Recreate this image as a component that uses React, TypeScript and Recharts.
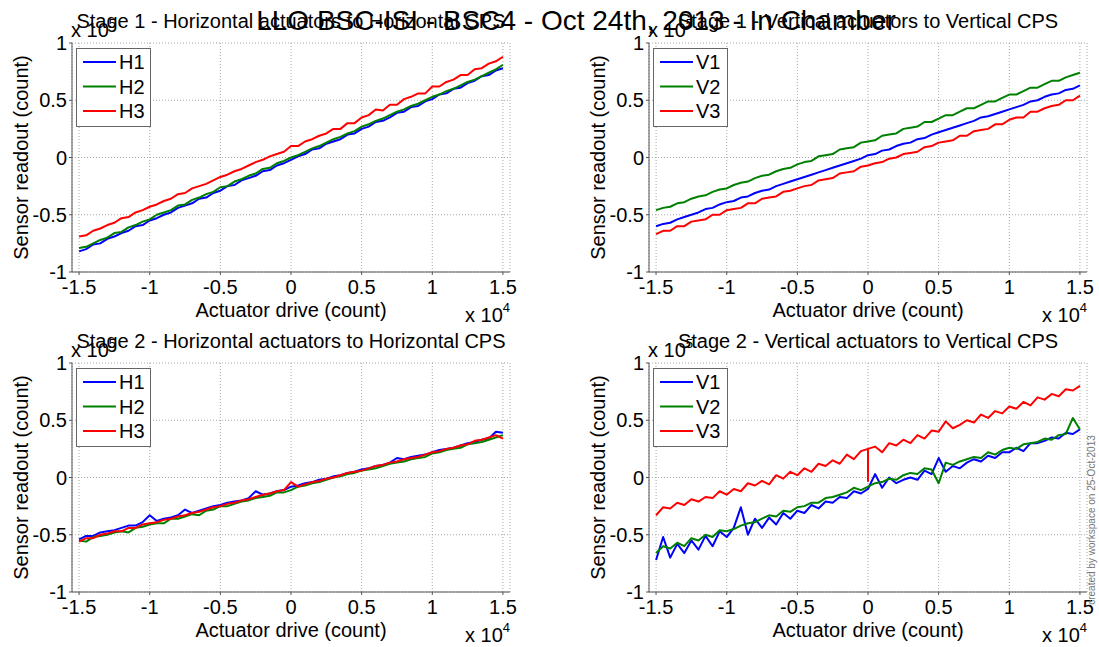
import React from 'react';
import { LineChart, Line, XAxis, YAxis, CartesianGrid } from 'recharts';

const FONT = '"Liberation Sans", Arial, Helvetica, sans-serif';

const MAIN_TITLE = 'LLO BSC-ISI - BSC4 - Oct 24th, 2013 - In Chamber';
const WATERMARK = 'created by workspace on 25-Oct-2013';
const X_LABEL = 'Actuator drive (count)';
const Y_LABEL = 'Sensor readout (count)';
const X_EXP = '4';
const Y_EXP = '5';

const X_TICKS = [-1.5, -1, -0.5, 0, 0.5, 1, 1.5];
const Y_TICKS = [-1, -0.5, 0, 0.5, 1];
const X_DOMAIN: [number, number] = [-1.55, 1.55];
const Y_DOMAIN: [number, number] = [-1, 1];

const COLORS = ['#0000ff', '#008000', '#ff0000'];

// actuator drive (x 10^4)
const XS = [-1.5, -1.45, -1.4, -1.35, -1.3, -1.25, -1.2, -1.15, -1.1, -1.05, -1, -0.95, -0.9, -0.85, -0.8, -0.75, -0.7, -0.65, -0.6, -0.55, -0.5, -0.45, -0.4, -0.35, -0.3, -0.25, -0.2, -0.15, -0.1, -0.05, 0, 0.05, 0.1, 0.15, 0.2, 0.25, 0.3, 0.35, 0.4, 0.45, 0.5, 0.55, 0.6, 0.65, 0.7, 0.75, 0.8, 0.85, 0.9, 0.95, 1, 1.05, 1.1, 1.15, 1.2, 1.25, 1.3, 1.35, 1.4, 1.45, 1.5];

// Stage 1 - Horizontal (x 10^5)
const S1_H1 = [-0.82, -0.80, -0.76, -0.75, -0.71, -0.69, -0.66, -0.64, -0.60, -0.59, -0.55, -0.53, -0.50, -0.48, -0.44, -0.42, -0.40, -0.36, -0.35, -0.31, -0.29, -0.25, -0.24, -0.20, -0.18, -0.16, -0.12, -0.11, -0.07, -0.05, -0.02, 0.01, 0.03, 0.07, 0.08, 0.12, 0.14, 0.16, 0.20, 0.21, 0.25, 0.27, 0.31, 0.32, 0.35, 0.39, 0.40, 0.44, 0.45, 0.49, 0.51, 0.55, 0.56, 0.60, 0.61, 0.65, 0.67, 0.71, 0.72, 0.76, 0.78];
const S1_H2 = [-0.79, -0.78, -0.75, -0.72, -0.70, -0.66, -0.65, -0.61, -0.59, -0.56, -0.54, -0.50, -0.48, -0.46, -0.42, -0.41, -0.37, -0.35, -0.32, -0.30, -0.26, -0.25, -0.21, -0.19, -0.16, -0.14, -0.10, -0.09, -0.05, -0.03, 0.00, 0.02, 0.05, 0.08, 0.10, 0.13, 0.16, 0.18, 0.21, 0.23, 0.27, 0.29, 0.32, 0.34, 0.37, 0.40, 0.42, 0.45, 0.47, 0.50, 0.53, 0.55, 0.58, 0.60, 0.63, 0.66, 0.68, 0.71, 0.74, 0.77, 0.81];
const S1_H3 = [-0.69, -0.68, -0.64, -0.62, -0.59, -0.57, -0.53, -0.52, -0.48, -0.46, -0.43, -0.41, -0.38, -0.36, -0.32, -0.31, -0.27, -0.25, -0.23, -0.20, -0.17, -0.15, -0.12, -0.10, -0.07, -0.04, -0.02, 0.01, 0.03, 0.05, 0.10, 0.10, 0.14, 0.16, 0.19, 0.21, 0.25, 0.25, 0.30, 0.30, 0.35, 0.37, 0.42, 0.41, 0.46, 0.46, 0.51, 0.53, 0.56, 0.56, 0.62, 0.62, 0.66, 0.68, 0.72, 0.72, 0.77, 0.78, 0.82, 0.84, 0.88];

// Stage 1 - Vertical
const S1_V1 = [-0.60, -0.58, -0.57, -0.54, -0.52, -0.50, -0.48, -0.45, -0.44, -0.41, -0.39, -0.38, -0.35, -0.34, -0.31, -0.29, -0.28, -0.25, -0.23, -0.21, -0.19, -0.17, -0.15, -0.13, -0.11, -0.09, -0.07, -0.05, -0.03, -0.01, 0.02, 0.03, 0.06, 0.07, 0.10, 0.12, 0.13, 0.16, 0.17, 0.20, 0.22, 0.24, 0.26, 0.28, 0.30, 0.32, 0.35, 0.36, 0.38, 0.40, 0.42, 0.44, 0.46, 0.49, 0.50, 0.53, 0.55, 0.56, 0.59, 0.60, 0.63];
const S1_V2 = [-0.46, -0.44, -0.43, -0.40, -0.39, -0.36, -0.34, -0.33, -0.30, -0.28, -0.27, -0.24, -0.22, -0.21, -0.18, -0.16, -0.15, -0.12, -0.10, -0.09, -0.06, -0.04, -0.03, 0.01, 0.02, 0.03, 0.07, 0.08, 0.09, 0.13, 0.14, 0.15, 0.19, 0.20, 0.21, 0.25, 0.26, 0.27, 0.31, 0.31, 0.34, 0.37, 0.37, 0.40, 0.43, 0.43, 0.46, 0.49, 0.49, 0.52, 0.55, 0.55, 0.58, 0.61, 0.61, 0.64, 0.67, 0.67, 0.70, 0.72, 0.74];
const S1_V3 = [-0.67, -0.64, -0.64, -0.60, -0.60, -0.56, -0.55, -0.54, -0.50, -0.50, -0.46, -0.45, -0.44, -0.40, -0.40, -0.36, -0.35, -0.34, -0.30, -0.29, -0.27, -0.25, -0.24, -0.20, -0.19, -0.18, -0.14, -0.13, -0.12, -0.08, -0.07, -0.05, -0.04, -0.01, 0.00, 0.03, 0.04, 0.05, 0.09, 0.10, 0.13, 0.14, 0.15, 0.19, 0.19, 0.23, 0.24, 0.25, 0.29, 0.29, 0.33, 0.35, 0.35, 0.40, 0.40, 0.43, 0.45, 0.46, 0.50, 0.50, 0.54];

// Stage 2 - Horizontal
const S2_H1 = [-0.54, -0.51, -0.51, -0.48, -0.47, -0.46, -0.44, -0.42, -0.42, -0.39, -0.33, -0.38, -0.36, -0.35, -0.33, -0.28, -0.31, -0.29, -0.27, -0.25, -0.24, -0.22, -0.21, -0.20, -0.18, -0.12, -0.15, -0.14, -0.12, -0.11, -0.08, -0.07, -0.05, -0.04, -0.02, -0.01, 0.01, 0.02, 0.04, 0.05, 0.07, 0.08, 0.10, 0.11, 0.13, 0.17, 0.16, 0.18, 0.19, 0.20, 0.22, 0.24, 0.25, 0.26, 0.28, 0.30, 0.31, 0.33, 0.34, 0.40, 0.39];
const S2_H2 = [-0.55, -0.56, -0.52, -0.51, -0.50, -0.48, -0.47, -0.48, -0.44, -0.43, -0.41, -0.40, -0.40, -0.36, -0.36, -0.34, -0.32, -0.33, -0.29, -0.28, -0.25, -0.25, -0.23, -0.21, -0.20, -0.18, -0.17, -0.16, -0.13, -0.13, -0.11, -0.08, -0.07, -0.05, -0.04, -0.02, 0.00, 0.01, 0.03, 0.04, 0.06, 0.07, 0.08, 0.10, 0.12, 0.13, 0.14, 0.16, 0.17, 0.18, 0.21, 0.22, 0.24, 0.25, 0.26, 0.29, 0.30, 0.31, 0.33, 0.35, 0.37];
const S2_H3 = [-0.56, -0.53, -0.53, -0.50, -0.49, -0.47, -0.47, -0.44, -0.44, -0.41, -0.40, -0.39, -0.37, -0.36, -0.34, -0.33, -0.31, -0.30, -0.28, -0.26, -0.25, -0.23, -0.22, -0.20, -0.19, -0.17, -0.15, -0.14, -0.12, -0.11, -0.04, -0.08, -0.06, -0.04, -0.03, -0.01, 0.00, 0.02, 0.04, 0.05, 0.06, 0.08, 0.10, 0.11, 0.13, 0.14, 0.16, 0.17, 0.18, 0.20, 0.22, 0.23, 0.25, 0.26, 0.28, 0.29, 0.32, 0.33, 0.35, 0.37, 0.34];

// Stage 2 - Vertical
const S2_V1 = [-0.72, -0.52, -0.70, -0.58, -0.66, -0.55, -0.63, -0.51, -0.60, -0.47, -0.52, -0.44, -0.26, -0.50, -0.36, -0.44, -0.35, -0.41, -0.31, -0.36, -0.29, -0.31, -0.24, -0.27, -0.21, -0.22, -0.17, -0.18, -0.12, -0.14, -0.10, 0.03, -0.09, 0.00, -0.05, -0.02, 0.00, -0.02, 0.06, 0.03, 0.17, 0.05, 0.10, 0.08, 0.13, 0.16, 0.14, 0.19, 0.17, 0.22, 0.22, 0.26, 0.23, 0.30, 0.30, 0.32, 0.35, 0.34, 0.39, 0.38, 0.42];
const S2_V2 = [-0.66, -0.60, -0.62, -0.57, -0.60, -0.53, -0.55, -0.50, -0.52, -0.46, -0.47, -0.45, -0.42, -0.40, -0.39, -0.36, -0.33, -0.34, -0.29, -0.30, -0.26, -0.25, -0.22, -0.22, -0.18, -0.17, -0.15, -0.13, -0.09, -0.11, -0.08, -0.05, -0.04, -0.01, -0.02, 0.02, 0.04, 0.03, 0.08, 0.07, -0.05, 0.13, 0.11, 0.14, 0.16, 0.18, 0.17, 0.22, 0.20, 0.24, 0.26, 0.25, 0.29, 0.30, 0.31, 0.34, 0.33, 0.37, 0.38, 0.52, 0.42];
const S2_V3 = [-0.33, -0.26, -0.27, -0.22, -0.24, -0.19, -0.21, -0.17, -0.18, -0.12, -0.15, -0.10, -0.12, -0.05, -0.07, -0.03, -0.06, 0.02, -0.01, 0.05, 0.02, 0.08, 0.05, 0.12, 0.10, 0.15, 0.12, 0.20, 0.16, 0.23, 0.25, 0.27, 0.22, 0.30, 0.28, 0.33, 0.30, 0.37, 0.34, 0.41, 0.40, 0.49, 0.43, 0.46, 0.50, 0.48, 0.55, 0.52, 0.58, 0.56, 0.62, 0.60, 0.66, 0.63, 0.70, 0.68, 0.73, 0.71, 0.77, 0.76, 0.80];
const S2_V3_SPIKE_X = 0;
const S2_V3_SPIKE_Y = -0.03;

type Pt = { x: number; y: number };

function toPoints(ys: number[]): Pt[] {
  return XS.map((x, i) => ({ x, y: ys[i] }));
}

function withSpike(ys: number[], sx: number, sy: number): Pt[] {
  const pts = toPoints(ys);
  const idx = XS.indexOf(sx);
  if (idx < 0) return pts;
  pts.splice(idx + 1, 0, { x: sx, y: sy }, { x: sx, y: ys[idx] });
  return pts;
}

const PLOT_W = 438;
const PLOT_H = 229;
const YAX_W = 60;
const M_TOP = 12;
const M_RIGHT = 12;
const XAX_H = 40;

type PanelDef = {
  left: number;
  top: number;
  title: string;
  names: string[];
  series: Pt[][];
};

const PANELS: PanelDef[] = [
  {
    left: 72, top: 43,
    title: 'Stage 1 - Horizontal actuators to Horizontal CPS',
    names: ['H1', 'H2', 'H3'],
    series: [toPoints(S1_H1), toPoints(S1_H2), toPoints(S1_H3)],
  },
  {
    left: 649, top: 43,
    title: 'Stage 1 - Vertical actuators to Vertical CPS',
    names: ['V1', 'V2', 'V3'],
    series: [toPoints(S1_V1), toPoints(S1_V2), toPoints(S1_V3)],
  },
  {
    left: 72, top: 363,
    title: 'Stage 2 - Horizontal actuators to Horizontal CPS',
    names: ['H1', 'H2', 'H3'],
    series: [toPoints(S2_H1), toPoints(S2_H2), toPoints(S2_H3)],
  },
  {
    left: 649, top: 363,
    title: 'Stage 2 - Vertical actuators to Vertical CPS',
    names: ['V1', 'V2', 'V3'],
    series: [toPoints(S2_V1), toPoints(S2_V2), withSpike(S2_V3, S2_V3_SPIKE_X, S2_V3_SPIKE_Y)],
  },
];

const tickStyle = { fill: '#000', fontSize: 20, fontFamily: FONT };

function PanelChart({ p }: { p: PanelDef }) {
  return (
    <div style={{ position: 'absolute', left: p.left - YAX_W, top: p.top - M_TOP }}>
      <LineChart
        width={PLOT_W + YAX_W + M_RIGHT}
        height={PLOT_H + M_TOP + XAX_H}
        margin={{ top: M_TOP, right: M_RIGHT, bottom: 0, left: 0 }}
      >
        <CartesianGrid stroke="#a8a8a8" strokeDasharray="1 2" strokeWidth={1} />
        <XAxis
          type="number"
          dataKey="x"
          domain={X_DOMAIN}
          ticks={X_TICKS}
          allowDataOverflow
          interval={0}
          height={XAX_H}
          axisLine={{ stroke: '#555' }}
          tickLine={{ stroke: '#555' }}
          tickSize={3}
          tickMargin={5}
          tick={tickStyle}
        />
        <YAxis
          type="number"
          dataKey="y"
          domain={Y_DOMAIN}
          ticks={Y_TICKS}
          allowDataOverflow
          interval={0}
          width={YAX_W}
          axisLine={{ stroke: '#555' }}
          tickLine={{ stroke: '#555' }}
          tickSize={3}
          tickMargin={2}
          tick={tickStyle}
        />
        {p.series.map((d, i) => (
          <Line
            key={p.names[i]}
            data={d}
            dataKey="y"
            name={p.names[i]}
            stroke={COLORS[i]}
            strokeWidth={2}
            dot={false}
            isAnimationActive={false}
            strokeLinejoin="round"
          />
        ))}
      </LineChart>
    </div>
  );
}

function PanelText({ p }: { p: PanelDef }) {
  const cx = p.left + PLOT_W / 2;
  const cy = p.top + PLOT_H / 2;
  const bottom = p.top + PLOT_H;
  const ylx = p.left - 44;
  return (
    <g fontFamily={FONT} fill="#000">
      {/* legend */}
      <rect x={p.left + 4.5} y={p.top + 5.5} width={74} height={78} fill="#fff" stroke="#666" strokeWidth={1} />
      {p.names.map((n, i) => {
        const ry = p.top + 19 + i * 24.5;
        return (
          <g key={n}>
            <line x1={p.left + 11} x2={p.left + 44} y1={ry} y2={ry} stroke={COLORS[i]} strokeWidth={2} />
            <text x={p.left + 47} y={ry + 7} fontSize={20}>{n}</text>
          </g>
        );
      })}
      {/* y multiplier */}
      <text x={p.left - 1} y={p.top - 6} fontSize={20}>
        x 10<tspan fontSize={13} dy={-9}>{Y_EXP}</tspan>
      </text>
      {/* title */}
      <text x={cx} y={p.top - 15} fontSize={20} textAnchor="middle">{p.title}</text>
      {/* x label */}
      <text x={cx} y={bottom + 45} fontSize={20} textAnchor="middle">{X_LABEL}</text>
      <text x={p.left + 393} y={bottom + 50} fontSize={20}>
        x 10<tspan fontSize={13} dy={-10}>{X_EXP}</tspan>
      </text>
      {/* y label */}
      <text x={ylx} y={cy} fontSize={20} textAnchor="middle" transform={`rotate(-90 ${ylx} ${cy})`}>{Y_LABEL}</text>
    </g>
  );
}

export default function App() {
  return (
    <div
      style={{
        position: 'absolute', left: 0, top: 0, width: 1099, height: 647,
        background: '#fff', overflow: 'hidden', fontFamily: FONT,
      }}
    >
      {PANELS.map((p) => (
        <PanelChart key={p.title} p={p} />
      ))}
      <svg
        width={1099}
        height={647}
        style={{ position: 'absolute', left: 0, top: 0, pointerEvents: 'none' }}
      >
        {PANELS.map((p) => (
          <PanelText key={p.title} p={p} />
        ))}
        <text x={576} y={30} fontSize={28} textAnchor="middle" fontFamily={FONT} fill="#000">{MAIN_TITLE}</text>
        <text
          x={1095}
          y={520}
          fontSize={10}
          textAnchor="middle"
          fontFamily={FONT}
          fill="#777"
          transform="rotate(-90 1095 520)"
        >
          {WATERMARK}
        </text>
      </svg>
    </div>
  );
}
